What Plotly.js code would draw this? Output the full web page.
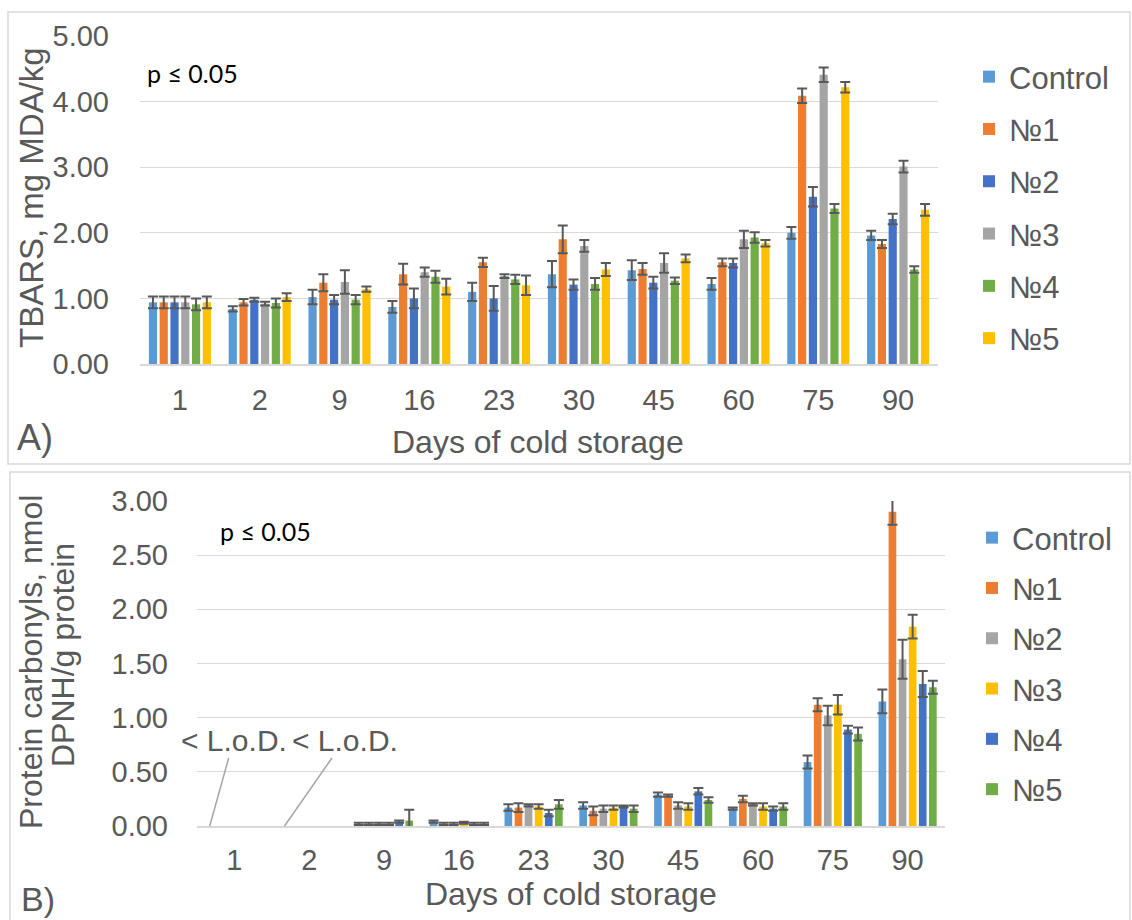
<!DOCTYPE html>
<html>
<head>
<meta charset="utf-8">
<script src="https://cdn.plot.ly/plotly-3.0.1.min.js"></script>
<style>html,body{margin:0;padding:0;background:#fff;}#chart{width:1132px;height:920px;}</style>
</head>
<body>
<div id="chart"></div>
<script>
// ---- Data ----
const days = ['1','2','9','16','23','30','45','60','75','90'];

// Panel A: TBARS, mg MDA/kg
const seriesNamesA = ['Control','№1','№2','№3','№4','№5'];
const tbarsControl = [0.94,0.84,1.02,0.87,1.10,1.37,1.43,1.22,2.00,1.96];
const tbarsN1      = [0.94,0.94,1.24,1.37,1.55,1.90,1.45,1.55,4.09,1.83];
const tbarsN2      = [0.94,0.98,0.98,1.00,1.00,1.21,1.24,1.54,2.55,2.21];
const tbarsN3      = [0.94,0.92,1.25,1.40,1.34,1.80,1.54,1.90,4.41,3.01];
const tbarsN4      = [0.91,0.93,0.98,1.33,1.29,1.22,1.27,1.93,2.37,1.44];
const tbarsN5      = [0.94,1.02,1.14,1.18,1.20,1.44,1.61,1.84,4.22,2.35];
const tbarsControlErr = [0.09,0.04,0.11,0.09,0.14,0.20,0.15,0.09,0.09,0.07];
const tbarsN1Err      = [0.09,0.05,0.13,0.16,0.07,0.21,0.09,0.06,0.11,0.06];
const tbarsN2Err      = [0.09,0.03,0.07,0.15,0.19,0.08,0.09,0.07,0.15,0.08];
const tbarsN3Err      = [0.09,0.03,0.18,0.07,0.03,0.09,0.15,0.13,0.11,0.09];
const tbarsN4Err      = [0.09,0.07,0.07,0.09,0.07,0.09,0.05,0.08,0.07,0.05];
const tbarsN5Err      = [0.09,0.06,0.04,0.12,0.15,0.10,0.06,0.05,0.08,0.09];

// Panel B: Protein carbonyls, nmol DPNH/g protein (days 1 and 2 below L.o.D.)
const seriesNamesB = ['Control','№1','№2','№3','№4','№5'];
const pcControl = [null,null,0.02,0.04,0.17,0.19,0.29,0.16,0.59,1.15];
const pcN1      = [null,null,0.02,0.02,0.17,0.14,0.28,0.25,1.12,2.90];
const pcN2      = [null,null,0.02,0.02,0.19,0.16,0.19,0.20,1.02,1.54];
const pcN3      = [null,null,0.02,0.03,0.18,0.17,0.18,0.18,1.12,1.84];
const pcN4      = [null,null,0.04,0.02,0.12,0.18,0.32,0.16,0.89,1.31];
const pcN5      = [null,null,0.05,0.02,0.20,0.16,0.24,0.18,0.85,1.28];
const pcControlErr = [null,null,0.01,0.01,0.03,0.03,0.02,0.01,0.06,0.11];
const pcN1Err      = [null,null,0.01,0.01,0.04,0.04,0.01,0.03,0.06,0.12];
const pcN2Err      = [null,null,0.01,0.01,0.01,0.03,0.03,0.01,0.09,0.18];
const pcN3Err      = [null,null,0.01,0.01,0.02,0.02,0.03,0.03,0.09,0.11];
const pcN4Err      = [null,null,0.01,0.01,0.03,0.01,0.03,0.02,0.035,0.12];
const pcN5Err      = [null,null,0.10,0.01,0.04,0.03,0.025,0.03,0.06,0.06];

const lodLabels = ['< L.o.D.','< L.o.D.'];
const pText = 'p ≤ 0.05';
const xTitle = 'Days of cold storage';
const yTitleA = 'TBARS, mg MDA/kg';
const yTitleB = ['Protein carbonyls, nmol','DPNH/g protein'];

// ---- Styling ----
const W = 1132, H = 920;
const px = v => v / W;
const py = v => 1 - v / H;
const FONT = 'Liberation Sans, Arial, sans-serif';
const GREY = '#595959';
const colorsA = ['#5B9BD5','#ED7D31','#4472C4','#A5A5A5','#70AD47','#FFC000'];
const colorsB = ['#5B9BD5','#ED7D31','#A5A5A5','#FFC000','#4472C4','#70AD47'];

const valsA = [tbarsControl,tbarsN1,tbarsN2,tbarsN3,tbarsN4,tbarsN5];
const errsA = [tbarsControlErr,tbarsN1Err,tbarsN2Err,tbarsN3Err,tbarsN4Err,tbarsN5Err];
const valsB = [pcControl,pcN1,pcN2,pcN3,pcN4,pcN5];
const errsB = [pcControlErr,pcN1Err,pcN2Err,pcN3Err,pcN4Err,pcN5Err];

const traces = [];
valsA.forEach((v,i) => traces.push({
  type:'bar', x:days, y:v, name:seriesNamesA[i], xaxis:'x', yaxis:'y',
  marker:{color:colorsA[i]}, legend:'legend', legendgroup:'a'+i,
  error_y:{type:'data', array:errsA[i], visible:true, color:'#595959', thickness:2, width:5}
}));
valsB.forEach((v,i) => traces.push({
  type:'bar', x:days, y:v, name:seriesNamesB[i], xaxis:'x2', yaxis:'y2',
  marker:{color:colorsB[i]}, legend:'legend2', legendgroup:'b'+i,
  error_y:{type:'data', array:errsB[i], visible:true, color:'#595959', thickness:2, width:5}
}));

const tickFont = {family:FONT, size:29, color:GREY};
const legFont = {family:FONT, size:31, color:GREY};
const titleFont = {family:FONT, size:32, color:GREY};

const layout = {
  width:W, height:H, margin:{l:0,r:0,t:0,b:0},
  paper_bgcolor:'#fff', plot_bgcolor:'#fff',
  barmode:'group', bargap:0.19, bargroupgap:0.24,
  showlegend:true,
  xaxis:{domain:[px(140),px(938)], anchor:'y', type:'category', range:[-0.5,9.5], autorange:false, tickfont:tickFont,
    showgrid:false, showline:true, linecolor:'#D9D9D9', linewidth:1.5, ticks:'', ticklabelstandoff:10},
  yaxis:{domain:[py(364),py(36)], anchor:'x', range:[0,5], autorange:false, dtick:1, tickformat:'.2f', tickfont:tickFont,
    gridcolor:'#D9D9D9', gridwidth:1.3, zeroline:false, ticks:'', ticklabelstandoff:30},
  xaxis2:{domain:[px(197),px(945)], anchor:'y2', type:'category', range:[-0.5,9.5], autorange:false, tickfont:tickFont,
    showgrid:false, showline:true, linecolor:'#D9D9D9', linewidth:1.5, ticks:'', ticklabelstandoff:8},
  yaxis2:{domain:[py(826),py(501)], anchor:'x2', range:[0,3], autorange:false, dtick:0.5, tickformat:'.2f', tickfont:tickFont,
    gridcolor:'#D9D9D9', gridwidth:1.3, zeroline:false, ticks:'', ticklabelstandoff:28},
  legend:{x:px(969), xanchor:'left', y:py(50), yanchor:'top', font:legFont,
    traceorder:'grouped', tracegroupgap:9, bgcolor:'rgba(0,0,0,0)'},
  legend2:{x:px(972), xanchor:'left', y:py(511), yanchor:'top', font:legFont,
    traceorder:'grouped', tracegroupgap:7, bgcolor:'rgba(0,0,0,0)'},
  shapes:[
    {type:'rect', xref:'paper', yref:'paper', x0:px(8), x1:px(1130), y0:py(464), y1:py(12),
      line:{color:'#D9D9D9', width:1.5}, fillcolor:'rgba(0,0,0,0)'},
    {type:'rect', xref:'paper', yref:'paper', x0:px(10), x1:px(1130), y0:py(930), y1:py(472),
      line:{color:'#D9D9D9', width:1.5}, fillcolor:'rgba(0,0,0,0)'}
  ],
  annotations:[
    {xref:'paper', yref:'paper', x:px(145), y:py(73), xanchor:'left', yanchor:'middle', showarrow:false,
      text:pText, font:{family:'Lato, sans-serif', size:25, color:'#000'}},
    {xref:'paper', yref:'paper', x:px(218), y:py(531), xanchor:'left', yanchor:'middle', showarrow:false,
      text:pText, font:{family:'Lato, sans-serif', size:25, color:'#000'}},
    {xref:'paper', yref:'paper', x:px(538), y:py(442), xanchor:'center', yanchor:'middle', showarrow:false,
      text:xTitle, font:titleFont},
    {xref:'paper', yref:'paper', x:px(571), y:py(894), xanchor:'center', yanchor:'middle', showarrow:false,
      text:xTitle, font:titleFont},
    {xref:'paper', yref:'paper', x:px(32), y:py(198), xanchor:'center', yanchor:'middle', showarrow:false,
      textangle:-90, text:yTitleA, font:{family:FONT, size:33, color:GREY}},
    {xref:'paper', yref:'paper', x:px(31), y:py(662), xanchor:'center', yanchor:'middle', showarrow:false,
      textangle:-90, text:yTitleB[0], font:{family:FONT, size:32, color:GREY}},
    {xref:'paper', yref:'paper', x:px(63), y:py(655), xanchor:'center', yanchor:'middle', showarrow:false,
      textangle:-90, text:yTitleB[1], font:{family:FONT, size:32, color:GREY}},
    {xref:'paper', yref:'paper', x:px(35), y:py(437), xanchor:'center', yanchor:'middle', showarrow:false,
      text:'A)', font:{family:FONT, size:36, color:GREY}},
    {xref:'paper', yref:'paper', x:px(38), y:py(899), xanchor:'center', yanchor:'middle', showarrow:false,
      text:'B)', font:{family:FONT, size:34, color:GREY}},
    {xref:'x2', yref:'y2', x:-0.33, y:0, ax:24, ay:-86, showarrow:true, arrowhead:0, arrowwidth:1.5,
      arrowcolor:'#A6A6A6', text:lodLabels[0], font:{family:FONT, size:30, color:GREY}},
    {xref:'x2', yref:'y2', x:0.67, y:0, ax:60, ay:-86, showarrow:true, arrowhead:0, arrowwidth:1.5,
      arrowcolor:'#A6A6A6', text:lodLabels[1], font:{family:FONT, size:30, color:GREY}}
  ]
};

Plotly.newPlot('chart', traces, layout, {displayModeBar:false, staticPlot:true});
</script>
</body>
</html>
